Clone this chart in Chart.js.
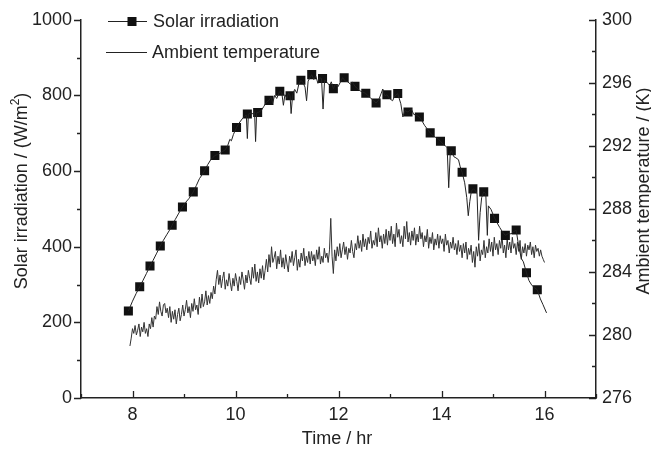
<!DOCTYPE html>
<html>
<head>
<meta charset="utf-8">
<script src="https://cdn.jsdelivr.net/npm/chart.js@4/dist/chart.umd.min.js"></script>
<style>
  html, body { margin: 0; padding: 0; background: #fff; }
  #wrap { width: 651px; height: 452px; }
</style>
</head>
<body>
<div id="wrap"><canvas id="chart"></canvas></div>
<script>
// square markers on the solar curve
const markTimes = [7.92, 8.14, 8.34, 8.54, 8.77, 8.97, 9.18, 9.40, 9.60, 9.80, 10.02, 10.23, 10.43, 10.65, 10.86,
  11.06, 11.27, 11.48, 11.69, 11.90, 12.11, 12.32, 12.53, 12.73, 12.94, 13.15, 13.35, 13.57, 13.78, 13.98,
  14.19, 14.40, 14.61, 14.82, 15.03, 15.24, 15.45, 15.65, 15.86];
const markValues = [230, 294, 349, 402, 457, 505, 545, 601, 641, 656, 715, 751, 755, 787, 811,
  799, 840, 855, 845, 818, 847, 824, 806, 780, 802, 805, 756, 743, 701, 679,
  654, 597, 553, 545, 475, 430, 444, 331, 286];

// measured solar irradiation (W/m2)
const solarTimes = [7.92, 8.00, 8.07, 8.14, 8.20, 8.27, 8.34, 8.40, 8.47, 8.54, 8.60, 8.67, 8.72, 8.77, 8.83,
  8.90, 8.97, 9.03, 9.10, 9.18, 9.24, 9.30, 9.35, 9.40, 9.46, 9.52, 9.56, 9.60, 9.65, 9.70,
  9.75, 9.80, 9.85, 9.89, 9.92, 9.96, 10.02, 10.07, 10.13, 10.18, 10.21, 10.23, 10.25, 10.30, 10.35,
  10.37, 10.39, 10.41, 10.44, 10.50, 10.55, 10.60, 10.65, 10.69, 10.72, 10.76, 10.80, 10.86, 10.90, 10.93,
  10.96, 11.00, 11.03, 11.06, 11.08, 11.11, 11.15, 11.19, 11.23, 11.27, 11.31, 11.35, 11.38, 11.41, 11.45,
  11.48, 11.52, 11.56, 11.60, 11.63, 11.67, 11.70, 11.73, 11.78, 11.83, 11.86, 11.90, 11.94, 11.99, 12.04,
  12.08, 12.13, 12.18, 12.23, 12.27, 12.32, 12.37, 12.42, 12.47, 12.52, 12.57, 12.62, 12.67, 12.73, 12.78,
  12.83, 12.86, 12.90, 12.94, 12.99, 13.05, 13.09, 13.15, 13.21, 13.25, 13.29, 13.35, 13.41, 13.46, 13.51,
  13.57, 13.62, 13.67, 13.72, 13.78, 13.84, 13.90, 13.94, 13.98, 14.03, 14.08, 14.11, 14.14, 14.17, 14.19,
  14.24, 14.28, 14.33, 14.36, 14.40, 14.45, 14.49, 14.52, 14.55, 14.58, 14.62, 14.66, 14.69, 14.72, 14.75,
  14.78, 14.82, 14.86, 14.89, 14.91, 14.96, 15.03, 15.08, 15.13, 15.18, 15.24, 15.30, 15.35, 15.40, 15.45,
  15.50, 15.55, 15.59, 15.65, 15.70, 15.75, 15.80, 15.86, 15.92, 15.97, 16.04];
const solarValues = [230, 256, 276, 294, 310, 329, 349, 364, 383, 402, 417, 433, 444, 457, 472,
  489, 505, 517, 528, 545, 562, 580, 590, 601, 617, 630, 636, 641, 644, 647,
  652, 656, 668, 684, 680, 697, 715, 727, 738, 746, 748, 686, 751, 753, 751,
  757, 678, 754, 755, 760, 771, 782, 787, 796, 779, 800, 792, 811, 806, 774,
  802, 792, 806, 799, 752, 803, 816, 806, 830, 840, 834, 822, 786, 838, 848,
  855, 842, 851, 832, 847, 845, 764, 841, 834, 826, 836, 818, 830, 823, 836,
  847, 838, 836, 830, 835, 824, 818, 812, 809, 806, 800, 794, 787, 780, 788,
  806, 817, 799, 802, 792, 786, 798, 805, 778, 743, 760, 756, 765, 750, 748,
  743, 733, 721, 712, 701, 693, 688, 684, 679, 671, 666, 662, 556, 648, 654,
  638, 635, 630, 613, 597, 569, 530, 482, 520, 547, 553, 548, 540, 417, 490,
  530, 545, 540, 430, 508, 499, 476, 463, 451, 440, 430, 435, 434, 440, 444,
  400, 369, 360, 331, 310, 299, 292, 286, 262, 247, 225];

// ambient temperature (K), one reading every 1.5 minutes from 7.95 hr
const tempStart = 7.95;
const tempStep = 0.025;
const tempValues = [
  279.3, 279.8, 280.4, 280.1, 280.6, 280.0, 280.3, 280.7, 279.9, 280.5, 280.2, 280.8, 280.1, 280.4, 279.9, 280.7, 280.4, 281.1, 280.5, 281.2,
  281.0, 281.8, 281.3, 282.1, 281.5, 281.2, 281.9, 282.0, 281.4, 281.7, 281.1, 281.8, 280.8, 281.5, 281.0, 281.6, 280.7, 281.3, 281.7, 280.9,
  281.3, 281.9, 281.2, 281.6, 282.2, 281.4, 281.8, 281.1, 282.0, 281.5, 282.3, 281.6, 281.9, 281.3, 282.4, 281.7, 282.6, 281.8, 282.1, 282.8,
  281.9, 282.5, 282.0, 282.7, 282.3, 283.1, 282.6, 283.5, 284.1, 283.2, 283.8, 283.0, 283.6, 284.0, 282.9, 283.5, 283.1, 283.9, 283.3, 282.8,
  283.6, 283.1, 283.9, 283.4, 282.8, 283.7, 283.2, 284.0, 283.5, 282.9, 283.8, 283.3, 284.1, 283.6, 283.2, 284.3, 283.6, 284.5, 283.4, 284.0,
  283.3, 284.2, 283.6, 284.4, 283.5, 284.1, 284.8, 284.0, 285.1, 284.3, 285.6, 284.6, 284.9, 285.3, 284.2, 285.0, 284.5, 285.4, 284.3, 284.9,
  284.2, 285.1, 284.5, 284.0, 285.0, 284.6, 285.3, 284.4, 284.9, 285.4, 284.1, 284.8, 284.3, 285.2, 284.7, 285.5, 284.4, 285.0, 284.6, 285.3,
  284.5, 285.3, 284.7, 285.1, 284.4, 285.4, 284.8, 285.6, 284.5, 285.0, 284.6, 285.5, 284.9, 285.2, 284.6, 285.4, 287.4, 285.0, 283.9, 285.4,
  284.7, 285.6, 285.0, 285.8, 284.9, 285.4, 285.9, 285.1, 285.6, 284.8, 285.5, 285.2, 286.0, 285.3, 284.9, 285.8, 285.4, 286.3, 285.5, 286.0,
  285.3, 286.4, 285.6, 286.1, 285.4, 286.2, 285.8, 286.6, 285.5, 286.0, 285.7, 286.5, 285.6, 286.8, 285.9, 286.3, 285.5, 286.4, 285.8, 286.7,
  285.7, 286.6, 286.0, 286.9, 285.8, 286.4, 285.6, 287.1, 286.2, 286.7, 285.8, 286.3, 285.6, 286.9, 286.1, 287.2, 285.9, 286.5, 285.7, 286.6,
  286.0, 286.8, 285.7, 286.4, 285.9, 286.9, 286.1, 286.5, 285.6, 286.3, 285.9, 286.7, 285.5, 286.2, 285.8, 286.5, 285.4, 286.1, 285.7, 286.4,
  285.5, 286.3, 285.8, 286.1, 285.3, 286.4, 285.7, 286.0, 285.2, 285.9, 285.5, 286.2, 285.4, 285.8, 285.1, 286.0, 285.3, 285.7, 284.9, 285.8,
  285.2, 285.9, 284.8, 285.5, 285.1, 285.7, 284.6, 285.3, 284.3, 285.6, 285.0, 285.8, 284.7, 285.4, 285.1, 286.0, 284.9, 285.6, 285.2, 286.1,
  285.3, 285.9, 285.0, 286.2, 285.4, 285.8, 285.1, 286.0, 285.5, 286.3, 285.2, 285.7, 284.9, 286.1, 285.4, 285.9, 285.2, 286.2, 285.5, 285.8,
  285.1, 285.9, 285.3, 286.0, 284.8, 285.6, 285.2, 285.8, 285.0, 285.7, 285.4, 285.9, 285.1, 285.6, 284.9, 285.7, 285.3, 285.5, 285.0, 285.4,
  285.0, 284.8, 284.6];

const FONT = '"Liberation Sans", Arial, sans-serif';
const F18 = '18px ' + FONT;
const F12 = '12px ' + FONT;
const INK = '#222';

const toPoints = (xs, ys) => ys.map((v, i) => ({ x: xs[i], y: v }));
const tempPoints = tempValues.map((v, i) => ({ x: +(tempStart + i * tempStep).toFixed(3), y: v }));

// Origin style ticks: left outward, bottom and right inward, long on labelled values
const originTicks = {
  id: 'originTicks',
  afterDraw(chart) {
    const { ctx, chartArea: a, scales } = chart;
    ctx.save();
    ctx.strokeStyle = INK;
    ctx.lineWidth = 1.3;
    ctx.beginPath();
    for (const t of scales.x.ticks) {
      const px = Math.round(scales.x.getPixelForValue(t.value)) + 0.5;
      const len = t.value % 2 === 0 ? 7 : 4;
      ctx.moveTo(px, a.bottom); ctx.lineTo(px, a.bottom - len);
    }
    for (const t of scales.y.ticks) {
      const py = Math.round(scales.y.getPixelForValue(t.value)) + 0.5;
      const len = t.value % 200 === 0 ? 7 : 4;
      ctx.moveTo(a.left, py); ctx.lineTo(a.left - len, py);
    }
    for (const t of scales.y1.ticks) {
      const py = Math.round(scales.y1.getPixelForValue(t.value)) + 0.5;
      const len = t.value % 4 === 0 ? 7 : 4;
      ctx.moveTo(a.right, py); ctx.lineTo(a.right - len, py);
    }
    ctx.stroke();
    ctx.restore();
  }
};

// axis titles and the legend box
const labelsAndLegend = {
  id: 'labelsAndLegend',
  afterDraw(chart) {
    const { ctx } = chart;
    ctx.save();
    ctx.fillStyle = INK;
    ctx.strokeStyle = INK;
    ctx.textBaseline = 'alphabetic';

    // x title
    ctx.font = F18;
    ctx.textAlign = 'center';
    ctx.fillText('Time / hr', 337, 444);

    // left title with superscript
    const main = 'Solar irradiation / (W/m', tail = ')';
    ctx.font = F18;
    const w1 = ctx.measureText(main).width, w3 = ctx.measureText(tail).width;
    ctx.font = F12;
    const w2 = ctx.measureText('2').width;
    ctx.save();
    ctx.translate(27, 191);
    ctx.rotate(-Math.PI / 2);
    ctx.textAlign = 'left';
    const x0 = -(w1 + w2 + w3) / 2;
    ctx.font = F18;
    ctx.fillText(main, x0, 0);
    ctx.font = F12;
    ctx.fillText('2', x0 + w1, -8);
    ctx.font = F18;
    ctx.fillText(tail, x0 + w1 + w2, 0);
    ctx.restore();

    // right title
    ctx.save();
    ctx.translate(649, 191);
    ctx.rotate(-Math.PI / 2);
    ctx.font = F18;
    ctx.textAlign = 'center';
    ctx.fillText('Ambient temperature / (K)', 0, 0);
    ctx.restore();

    // legend
    ctx.lineWidth = 1;
    ctx.beginPath();
    ctx.moveTo(108, 21.5); ctx.lineTo(147, 21.5);
    ctx.moveTo(106, 52.5); ctx.lineTo(147, 52.5);
    ctx.stroke();
    ctx.fillStyle = '#111';
    ctx.fillRect(127.5, 17, 9, 9);
    ctx.fillStyle = INK;
    ctx.font = F18;
    ctx.textAlign = 'left';
    ctx.fillText('Solar irradiation', 153, 27);
    ctx.fillText('Ambient temperature', 152, 58);
    ctx.restore();
  }
};

const tickFont = { family: FONT, size: 18 };

new Chart(document.getElementById('chart'), {
  type: 'line',
  data: {
    datasets: [
      {
        label: 'Solar irradiation',
        data: toPoints(solarTimes, solarValues),
        yAxisID: 'y',
        borderColor: '#222',
        borderWidth: 1,
        pointRadius: 0,
        tension: 0
      },
      {
        label: 'Solar irradiation markers',
        data: toPoints(markTimes, markValues),
        yAxisID: 'y',
        showLine: false,
        pointStyle: 'rect',
        pointRadius: 6.4,
        pointBackgroundColor: '#111',
        pointBorderWidth: 0
      },
      {
        label: 'Ambient temperature',
        data: tempPoints,
        yAxisID: 'y1',
        borderColor: '#333',
        borderWidth: 1,
        pointRadius: 0,
        tension: 0
      }
    ]
  },
  options: {
    responsive: true,
    maintainAspectRatio: false,
    animation: false,
    layout: { padding: { top: 15, left: 0, right: 0, bottom: 0 } },
    plugins: { legend: { display: false }, tooltip: { enabled: false } },
    scales: {
      x: {
        type: 'linear',
        min: 7, max: 17,
        afterFit: s => { s.height = 54; },
        grid: { display: false, drawTicks: false },
        border: { display: true, color: INK, width: 1.5 },
        ticks: {
          stepSize: 1, autoSkip: false, maxRotation: 0, padding: 6,
          color: INK, font: tickFont,
          callback: v => (v % 2 === 0 ? String(v) : '')
        }
      },
      y: {
        position: 'left',
        min: 0, max: 1000,
        afterFit: s => { s.width = 81; },
        grid: { display: false, drawTicks: false },
        border: { display: true, color: INK, width: 1.5 },
        ticks: {
          stepSize: 100, autoSkip: false, padding: 9,
          color: INK, font: tickFont,
          callback: v => (v % 200 === 0 ? String(v) : '')
        }
      },
      y1: {
        position: 'right',
        min: 276, max: 300,
        afterFit: s => { s.width = 55; },
        grid: { display: false, drawTicks: false },
        border: { display: true, color: INK, width: 1.5 },
        ticks: {
          stepSize: 2, autoSkip: false, padding: 6,
          color: INK, font: tickFont,
          callback: v => (v % 4 === 0 ? String(v) : '')
        }
      }
    }
  },
  plugins: [originTicks, labelsAndLegend]
});
</script>
</body>
</html>
